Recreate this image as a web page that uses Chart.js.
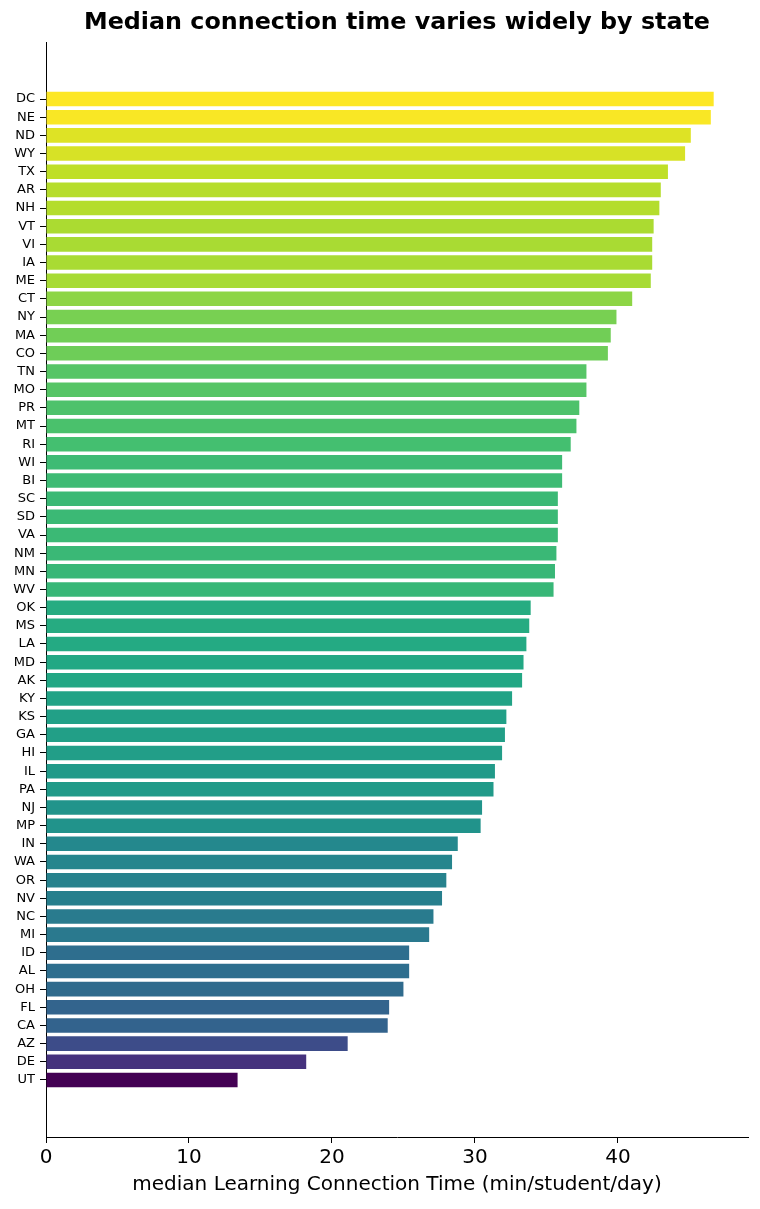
<!DOCTYPE html>
<html lang="en">
<head>
    <meta charset="UTF-8">
    <title>Median connection time by state</title>
    <style>
        body {
            margin: 0;
            background: #ffffff;
        }
        canvas {
            display: block;
        }
    </style>
</head>
<body>
    <canvas id="stateChart" width="760" height="1209"></canvas>

    <script src="https://cdn.jsdelivr.net/npm/chart.js"></script>
    <script>
        // States, top to bottom as in the chart
        var states = ['DC', 'NE', 'ND', 'WY', 'TX', 'AR', 'NH', 'VT', 'VI', 'IA', 'ME',
            'CT', 'NY', 'MA', 'CO', 'TN', 'MO', 'PR', 'MT', 'RI', 'WI', 'BI', 'SC', 'SD',
            'VA', 'NM', 'MN', 'WV', 'OK', 'MS', 'LA', 'MD', 'AK', 'KY', 'KS', 'GA', 'HI',
            'IL', 'PA', 'NJ', 'MP', 'IN', 'WA', 'OR', 'NV', 'NC', 'MI', 'ID', 'AL', 'OH',
            'FL', 'CA', 'AZ', 'DE', 'UT'];

        // median Learning Connection Time (min/student/day)
        var medianTime = [46.7, 46.5, 45.1, 44.7, 43.5, 43.0, 42.9, 42.5, 42.4, 42.4, 42.3,
            41.0, 39.9, 39.5, 39.3, 37.8, 37.8, 37.3, 37.1, 36.7, 36.1, 36.1, 35.8, 35.8,
            35.8, 35.7, 35.6, 35.5, 33.9, 33.8, 33.6, 33.4, 33.3, 32.6, 32.2, 32.1, 31.9,
            31.4, 31.3, 30.5, 30.4, 28.8, 28.4, 28.0, 27.7, 27.1, 26.8, 25.4, 25.4, 25.0,
            24.0, 23.9, 21.1, 18.2, 13.4];

        var xTicks = [0, 10, 20, 30, 40];

        // viridis colour map stops
        var viridis = ['#440154', '#482475', '#414487', '#355f8d', '#2a788e', '#21918c',
            '#22a884', '#44bf70', '#7ad151', '#bddf26', '#fde725'];

        function hexToRgb(h) {
            return [parseInt(h.substr(1, 2), 16), parseInt(h.substr(3, 2), 16), parseInt(h.substr(5, 2), 16)];
        }

        function viridisColor(t) {
            var pos = Math.max(0, Math.min(1, t)) * (viridis.length - 1);
            var i = Math.min(Math.floor(pos), viridis.length - 2);
            var f = pos - i;
            var a = hexToRgb(viridis[i]);
            var b = hexToRgb(viridis[i + 1]);
            var c = a.map(function (v, k) { return Math.round(v + (b[k] - v) * f); });
            return 'rgb(' + c.join(',') + ')';
        }

        var n = states.length;
        var vMin = Math.min.apply(null, medianTime);
        var vMax = Math.max.apply(null, medianTime);

        // first state at the top, so positions count from the bottom
        var points = medianTime.map(function (v, i) { return { x: v, y: n - 1 - i }; });
        var colors = medianTime.map(function (v) { return viridisColor((v - vMin) / (vMax - vMin)); });

        var fontFamily = "'DejaVu Sans', sans-serif";

        // title centred over the plot area like matplotlib does
        var titlePlugin = {
            id: 'plotTitle',
            afterDraw: function (chart) {
                var ctx = chart.ctx;
                var area = chart.chartArea;
                ctx.save();
                ctx.font = 'bold 23.8px ' + fontFamily;
                ctx.fillStyle = '#000';
                ctx.textAlign = 'center';
                ctx.textBaseline = 'middle';
                ctx.fillText('Median connection time varies widely by state', (area.left + area.right) / 2, 23);
                ctx.restore();
            }
        };

        // half a bar plus 5% padding, as matplotlib leaves it
        var margin = 0.4 + 0.05 * (n - 1 + 0.8);

        var ctx = document.getElementById('stateChart').getContext('2d');
        var stateChart = new Chart(ctx, {
            type: 'bar',
            data: {
                datasets: [{
                    data: points,
                    backgroundColor: colors,
                    borderWidth: 0,
                    barPercentage: 1,
                    categoryPercentage: 0.8
                }]
            },
            plugins: [titlePlugin],
            options: {
                indexAxis: 'y',
                responsive: false,
                animation: false,
                layout: {
                    padding: { top: 42, right: 12, left: 0, bottom: 0 }
                },
                plugins: {
                    legend: { display: false },
                    tooltip: { enabled: false }
                },
                scales: {
                    x: {
                        type: 'linear',
                        position: 'bottom',
                        min: 0,
                        max: 49.1,
                        afterFit: function (scale) { scale.height = 72; },
                        afterBuildTicks: function (scale) {
                            scale.ticks = xTicks.map(function (v) { return { value: v }; });
                        },
                        grid: {
                            drawOnChartArea: false,
                            drawTicks: true,
                            tickLength: 6,
                            tickColor: '#000'
                        },
                        border: { display: true, color: '#000', width: 1 },
                        ticks: {
                            color: '#000',
                            padding: 3,
                            font: { family: fontFamily, size: 20 }
                        },
                        title: {
                            display: true,
                            text: 'median Learning Connection Time (min/student/day)',
                            color: '#000',
                            padding: { top: 4, bottom: 12 },
                            font: { family: fontFamily, size: 20 }
                        }
                    },
                    y: {
                        type: 'linear',
                        offset: false,
                        min: -margin,
                        max: n - 1 + margin,
                        afterFit: function (scale) { scale.width = 46; },
                        afterBuildTicks: function (scale) {
                            scale.ticks = states.map(function (s, i) { return { value: i }; });
                        },
                        grid: {
                            offset: false,
                            drawOnChartArea: false,
                            drawTicks: true,
                            tickLength: 6,
                            tickColor: '#000'
                        },
                        border: { display: true, color: '#000', width: 1 },
                        ticks: {
                            autoSkip: false,
                            color: '#000',
                            padding: 5,
                            font: { family: fontFamily, size: 13 },
                            callback: function (value) { return states[n - 1 - value]; }
                        }
                    }
                }
            }
        });
    </script>
</body>
</html>
